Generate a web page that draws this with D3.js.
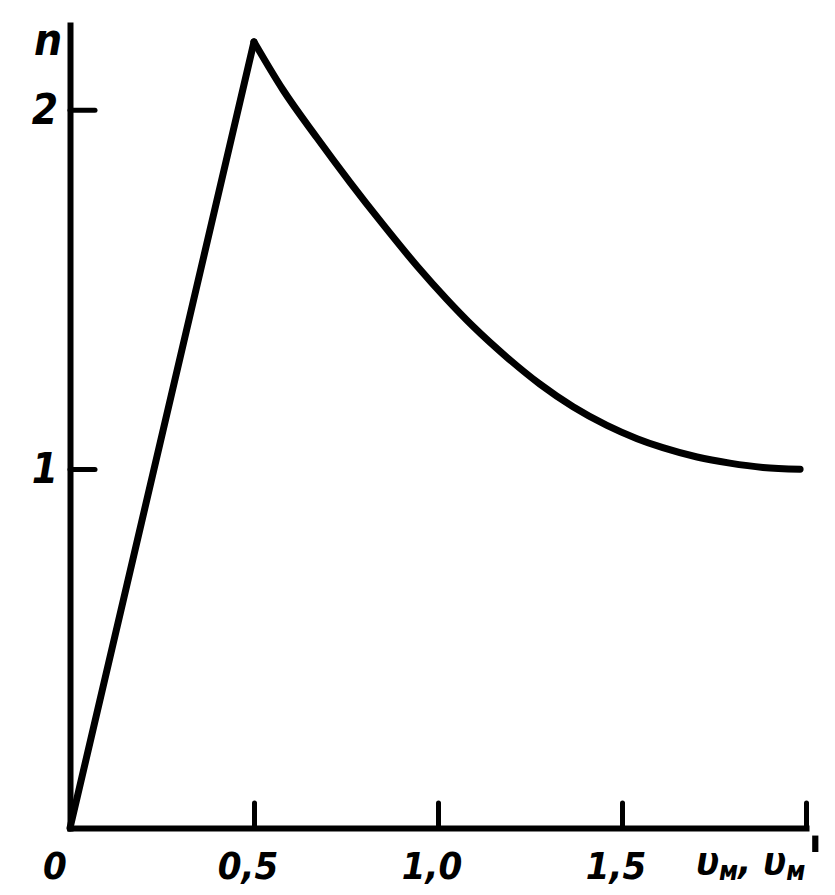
<!DOCTYPE html>
<html>
<head>
<meta charset="utf-8">
<script src="https://cdn.jsdelivr.net/npm/d3@7"></script>
<style>
  html, body { margin: 0; padding: 0; background: #fff; }
  svg { display: block; }
  .lbl { font-family: "Liberation Sans Narrow", "DejaVu Sans Condensed", "Liberation Sans", sans-serif; font-style: italic; font-weight: bold; fill: #000; }
</style>
</head>
<body>
<svg id="chart" width="835" height="895"></svg>
<script>
// ---- data ----
const velocity = [0, 0.5, 0.579, 0.671, 0.761, 0.851, 0.943, 1.024, 1.095, 1.188, 1.277, 1.367, 1.459, 1.541, 1.611, 1.704, 1.793, 1.883, 1.984];
const ratio    = [0, 2.189, 2.055, 1.922, 1.798, 1.680, 1.565, 1.472, 1.397, 1.310, 1.236, 1.173, 1.121, 1.084, 1.059, 1.033, 1.016, 1.004, 0.999];
const xTicks = [0.5, 1.0, 1.5, 2.0];
const xTickLabels = ["0,5", "1,0", "1,5"];
const yTicks = [1, 2];
const yTickLabels = ["1", "2"];

const svg = d3.select("#chart");
const x = d3.scaleLinear().domain([0, 2]).range([70, 806]);
const y = d3.scaleLinear().domain([0, 2.236]).range([828, 25]);

const pts = velocity.map((v, i) => ({ v, n: ratio[i] }));

// axes
const xAxis = d3.axisBottom(x).tickValues(xTicks).tickSize(-25).tickSizeOuter(0).tickFormat("");
const gx = svg.append("g").attr("transform", `translate(0,${y(0)})`).call(xAxis);
const yAxis = d3.axisLeft(y).tickValues(yTicks).tickSize(-25).tickSizeOuter(0).tickFormat("");
const gy = svg.append("g").attr("transform", `translate(${x(0)},0)`).call(yAxis);
[gx, gy].forEach(g => {
  g.select(".domain").attr("stroke", "#000").attr("stroke-width", 6).attr("stroke-linecap", "square");
  g.selectAll(".tick line").attr("stroke", "#000").attr("stroke-width", 5).attr("stroke-linecap", "round");
});

// curve: straight rise, smooth fall
svg.append("path").datum(pts.slice(0, 2))
  .attr("d", d3.line().x(d => x(d.v)).y(d => y(d.n)).curve(d3.curveLinear))
  .attr("fill", "none").attr("stroke", "#000").attr("stroke-width", 7)
  .attr("stroke-linejoin", "round").attr("stroke-linecap", "round");
svg.append("path").datum(pts.slice(1))
  .attr("d", d3.line().x(d => x(d.v)).y(d => y(d.n)).curve(d3.curveMonotoneX))
  .attr("fill", "none").attr("stroke", "#000").attr("stroke-width", 7)
  .attr("stroke-linejoin", "round").attr("stroke-linecap", "round");

// y tick labels
svg.selectAll(".ylab").data(yTicks).enter().append("text")
  .attr("class", "lbl").attr("text-anchor", "end")
  .attr("x", 58).attr("y", d => y(d) + 14)
  .style("font-size", "42px")
  .text((d, i) => yTickLabels[i]);

// y axis title
svg.append("text").attr("class", "lbl").attr("x", 34).attr("y", 55)
  .style("font-size", "44px").text("n");

// x tick labels
svg.append("text").attr("class", "lbl").attr("text-anchor", "middle")
  .attr("x", x(0) - 15).attr("y", 879).style("font-size", "38px").text("0");
svg.selectAll(".xlab").data(xTicks.slice(0, 3)).enter().append("text")
  .attr("class", "lbl").attr("text-anchor", "middle")
  .attr("x", d => x(d) - 6).attr("y", 879)
  .style("font-size", "38px")
  .text((d, i) => xTickLabels[i]);

// x axis title
const t = svg.append("text").attr("class", "lbl").attr("x", 696).attr("y", 874).style("font-size", "38px");
t.append("tspan").text("υ");
t.append("tspan").attr("dy", 6).style("font-size", "26px").text("м");
t.append("tspan").attr("dy", -6).text(", υ");
t.append("tspan").attr("dy", 6).style("font-size", "26px").text("м");
svg.append("text").attr("class", "lbl").attr("x", 807).attr("y", 880)
  .style("font-size", "60px").text("'");
</script>
</body>
</html>
